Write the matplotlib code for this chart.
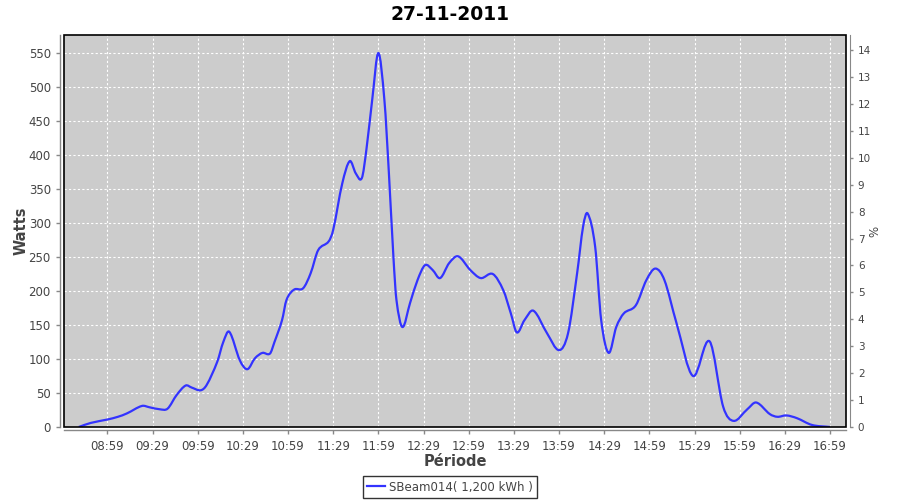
import numpy as np
import matplotlib
matplotlib.use('Agg')
import matplotlib.pyplot as plt
from matplotlib.patches import Rectangle, PathPatch
from matplotlib.path import Path
from matplotlib.lines import Line2D

# readings (time of day, watts)
times = ['08:40', '08:48', '08:59', '09:06', '09:12', '09:22', '09:27', '09:34', '09:39', '09:45',
         '09:51', '09:55', '10:01', '10:05', '10:12', '10:16', '10:20', '10:27', '10:32', '10:37',
         '10:42', '10:47', '10:50', '10:55', '10:58', '11:03', '11:09', '11:14', '11:19', '11:26',
         '11:29', '11:35', '11:40', '11:44', '11:48', '11:51', '11:55', '11:59', '12:03', '12:06',
         '12:09', '12:11', '12:15', '12:20', '12:25', '12:30', '12:35', '12:40', '12:46', '12:52',
         '13:00', '13:07', '13:15', '13:22', '13:27', '13:31', '13:36', '13:42', '13:51', '13:59',
         '14:05', '14:11', '14:15', '14:18', '14:23', '14:27', '14:32', '14:37', '14:42', '14:50',
         '14:57', '15:03', '15:09', '15:17', '15:28', '15:39', '15:48', '15:55', '16:04', '16:10',
         '16:19', '16:24', '16:30', '16:37', '16:47', '16:59']
watts = [0, 6, 11, 15, 20, 31, 29, 26, 27, 47,
         61, 58, 54, 62, 96, 125, 140, 98, 85, 101,
         109, 108, 125, 157, 187, 202, 204, 226, 260, 273,
         290, 358, 391, 373, 366, 407, 483, 550, 481, 373,
         250, 187, 147, 182, 216, 238, 231, 219, 241, 251,
         231, 219, 225, 201, 167, 139, 157, 171, 138, 113,
         138, 226, 295, 314, 265, 157, 109, 147, 167, 179,
         216, 233, 216, 153, 75, 126, 30, 9, 26, 36,
         19, 15, 17, 13, 3, 0]

tick_labels = ['08:59', '09:29', '09:59', '10:29', '10:59', '11:29', '11:59', '12:29', '12:59',
               '13:29', '13:59', '14:29', '14:59', '15:29', '15:59', '16:29', '16:59']
watt_ticks = list(range(0, 551, 50))
pct_ticks = list(range(0, 15))


def to_min(s):
    h, m = s.split(':')
    return int(h) * 60 + int(m)


def spline_path(xs, ys):
    # smooth bezier through the points (like a spline renderer), no extra data
    xs = np.asarray(xs, float)
    ys = np.asarray(ys, float)
    n = len(xs)
    m = np.zeros(n)
    for i in range(n):
        a = max(i - 1, 0)
        b = min(i + 1, n - 1)
        m[i] = (ys[b] - ys[a]) / (xs[b] - xs[a])
    verts = [(xs[0], ys[0])]
    codes = [Path.MOVETO]
    for i in range(n - 1):
        h = xs[i + 1] - xs[i]
        verts += [(xs[i] + h / 3, ys[i] + m[i] * h / 3),
                  (xs[i + 1] - h / 3, ys[i + 1] - m[i + 1] * h / 3),
                  (xs[i + 1], ys[i + 1])]
        codes += [Path.CURVE4] * 3
    return Path(verts, codes)


x = [to_min(t) for t in times]
xt = [to_min(t) for t in tick_labels]

grey_txt = '#444444'
axis_col = '#888888'
line_col = '#3333ff'

fig = plt.figure(figsize=(9, 5), dpi=100)
ax = fig.add_axes([64 / 900, 1 - 427 / 500, (846 - 64) / 900, (427 - 35) / 500])
ax.set_facecolor('#cccccc')

ax.add_patch(PathPatch(spline_path(x, watts), fill=False, ec=line_col, lw=1.6, zorder=3,
                       joinstyle='round'))

ax.set_xlim(510.2, 1029.6)
ax.set_ylim(0, 576.5)
ax.set_xticks(xt)
ax.set_xticklabels(tick_labels)
ax.set_yticks(watt_ticks)
ax.grid(True, color='white', ls=(0, (2, 2)), lw=0.8, zorder=1)
ax.set_axisbelow(True)

for s in ['top', 'right']:
    ax.spines[s].set_visible(False)
ax.spines['left'].set_position(('outward', 3))
ax.spines['bottom'].set_position(('outward', 2.5))
for s in ['left', 'bottom']:
    ax.spines[s].set_color(axis_col)
    ax.spines[s].set_linewidth(1)
ax.tick_params(axis='both', colors=axis_col, labelcolor=grey_txt, labelsize=8.5, length=3, width=1)

# black plot outline
ax.add_patch(Rectangle((0, 0), 1, 1, transform=ax.transAxes, fill=False, ec='black', lw=1.2,
                       clip_on=False, zorder=5))

ax2 = ax.twinx()
ax2.set_ylim(0, 14.56)
ax2.set_yticks(pct_ticks)
for s in ['top', 'left', 'bottom']:
    ax2.spines[s].set_visible(False)
ax2.spines['right'].set_position(('outward', 3))
ax2.spines['right'].set_color(axis_col)
ax2.tick_params(axis='y', colors=axis_col, labelcolor=grey_txt, labelsize=7.5, length=2, width=1)

ax.set_ylabel('Watts', fontsize=10.5, fontweight='bold', color=grey_txt, labelpad=0)
ax.set_xlabel('Période', fontsize=10.5, fontweight='bold', color=grey_txt, labelpad=1)
ax2.set_ylabel('%', fontsize=8.5, color=grey_txt, labelpad=-2)

fig.text(0.5, 1 - 15 / 500, '27-11-2011', ha='center', va='center', fontsize=13.5,
         fontweight='bold', color='black')

handle = Line2D([], [], color=line_col, lw=1.6)
leg = fig.legend(handles=[handle], labels=['SBeam014( 1,200 kWh )'], loc='center',
                 bbox_to_anchor=(0.5, 1 - 487 / 500), frameon=True, fancybox=False,
                 fontsize=8.5, handlelength=1.5, handletextpad=0.3, borderpad=0.35,
                 labelcolor=grey_txt)
leg.get_frame().set_edgecolor('black')
leg.get_frame().set_linewidth(1)

fig.savefig('out.png', dpi=100)
